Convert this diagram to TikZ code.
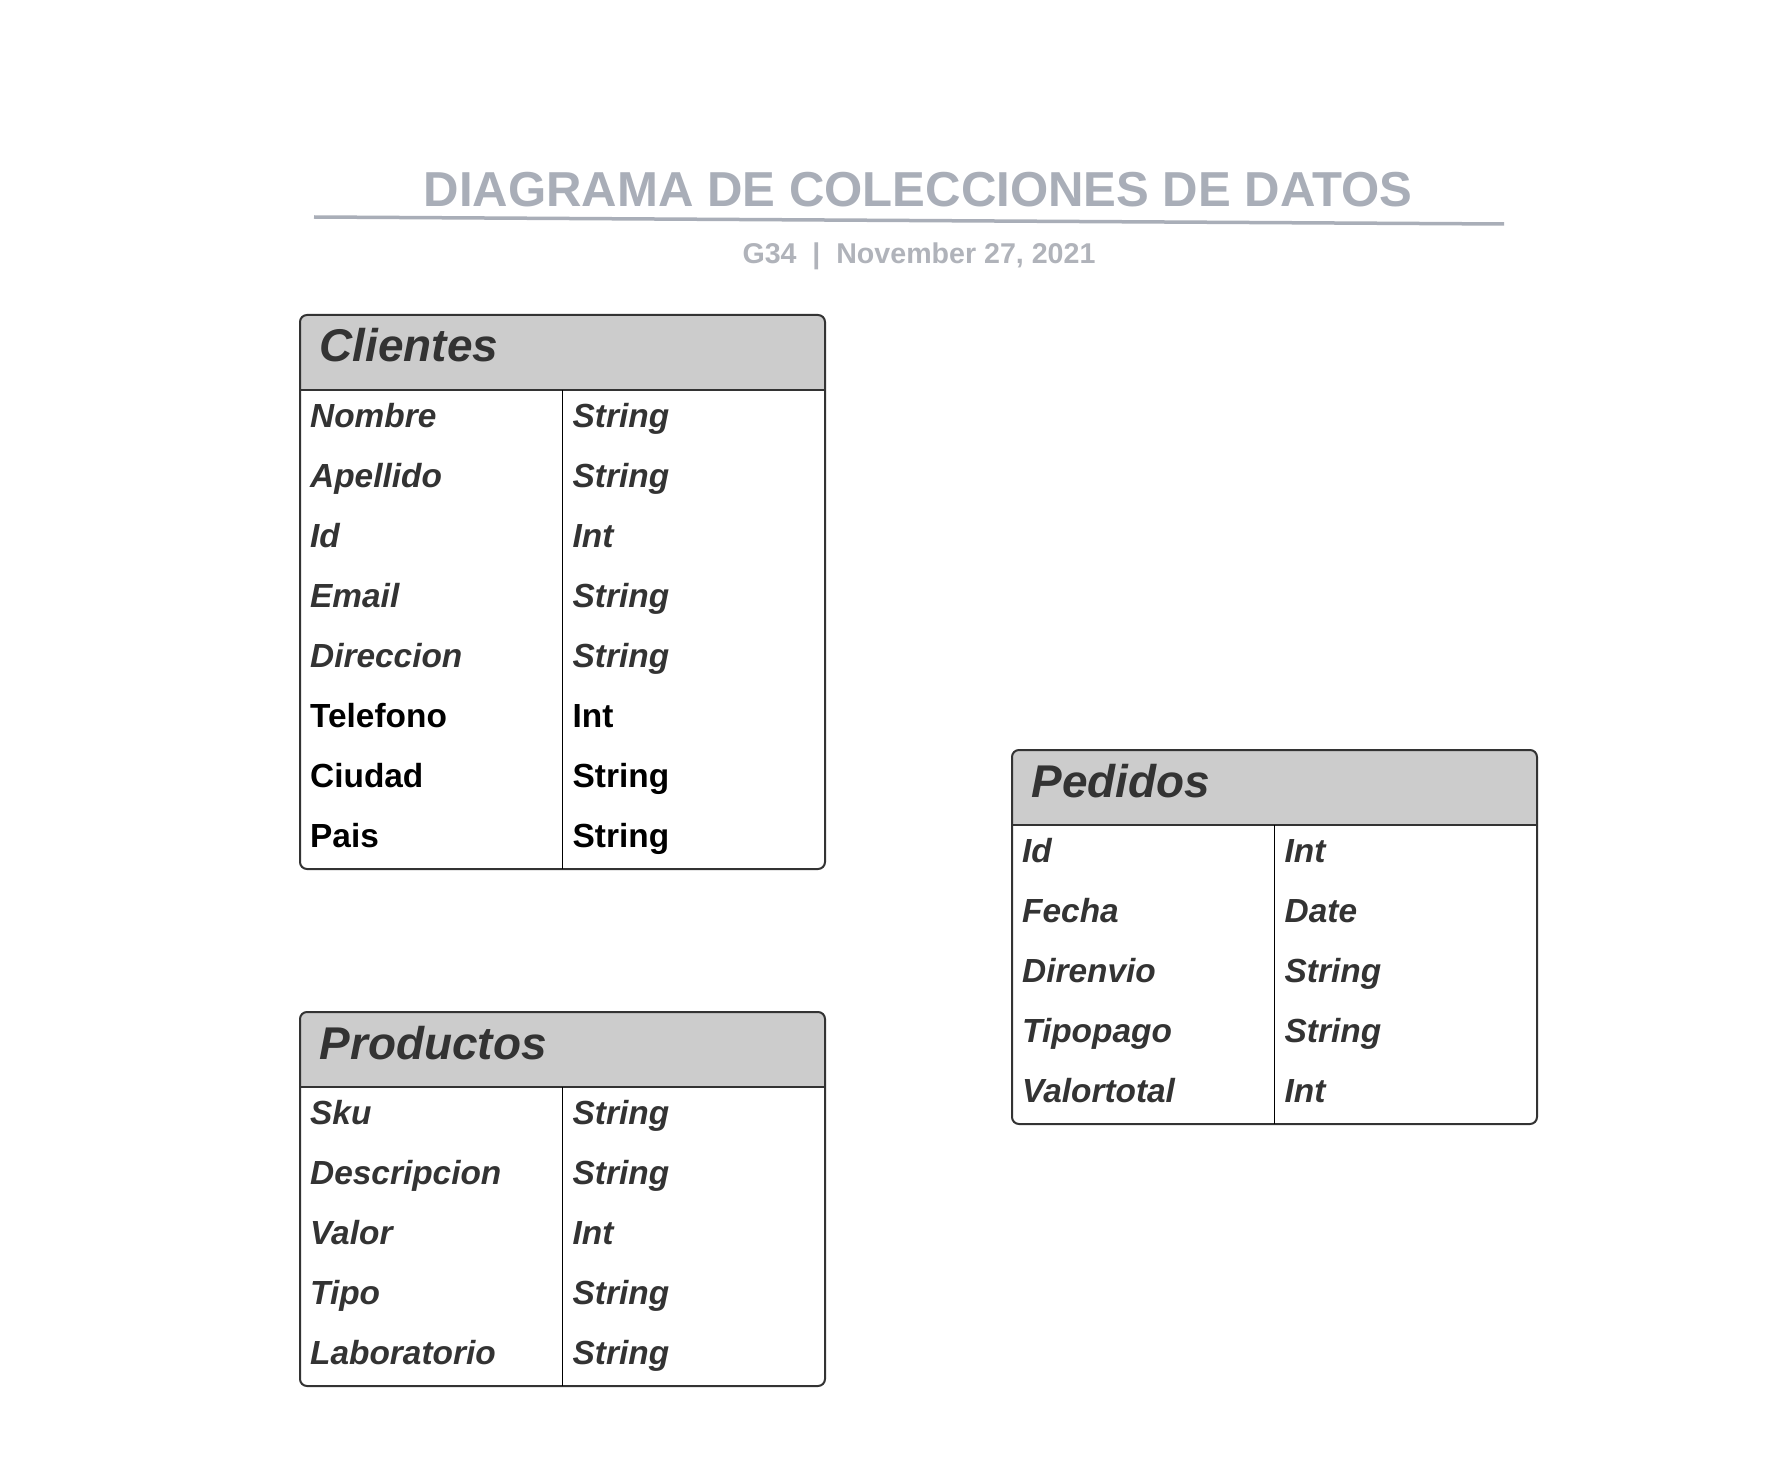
\documentclass[tikz,border=0pt]{standalone}
\usepackage{fontspec}
\setmainfont{Liberation Sans}
\definecolor{ttl}{HTML}{A9AEB8}
\definecolor{sub}{HTML}{B0B3BA}
\definecolor{txt}{HTML}{333333}
\definecolor{hdr}{HTML}{CCCCCC}
\tikzset{
  frame/.style={draw=txt, line width=2pt, rounded corners=7pt},
  hdrline/.style={draw=txt, line width=1.5pt},
  divline/.style={draw=black, line width=1.2pt},
  field/.style={anchor=base west, inner sep=0pt, font=\fontsize{33.4}{40}\selectfont\bfseries\itshape, text=txt},
  fieldb/.style={anchor=base west, inner sep=0pt, font=\fontsize{33.4}{40}\selectfont\bfseries, text=black},
  tabtitle/.style={anchor=base west, inner sep=0pt, font=\fontsize{45.9}{54}\selectfont\bfseries\itshape, text=txt},
}
% #1 name, #2 x, #3 y, #4 number of rows, #5 title
\newcommand\dbtab[5]{%
  \pgfmathsetmacro\tbot{#3+74+60*#4}%
  \pgfmathsetmacro\tright{#2+525}%
  \pgfmathsetmacro\thb{#3+75}%
  \pgfmathsetmacro\tdiv{#2+262.5}%
  \coordinate (#1-nw) at (#2,#3);
  \coordinate (#1-se) at (\tright,\tbot);
  \coordinate (#1-hl) at (#2,\thb);
  \coordinate (#1-hr) at (\tright,\thb);
  \coordinate (#1-dt) at (\tdiv,\thb);
  \coordinate (#1-db) at (\tdiv,\tbot);
  \begin{scope}
    \clip[rounded corners=7pt] (#1-nw) rectangle (#1-se);
    \fill[hdr] (#1-nw) rectangle (#1-hr);
  \end{scope}
  \draw[frame] (#1-nw) rectangle (#1-se);
  \draw[hdrline] (#1-hl) -- (#1-hr);
  \draw[divline] (#1-dt) -- (#1-db);
  \node[tabtitle] (#1-title) at (#2+19.5,#3+47) {#5};
}
% #1 name, #2 table x, #3 table y, #4 row index, #5 style, #6 field, #7 type
\newcommand\dbrow[7]{%
  \node[#5] (#1-f#4) at (#2+10,#3+112+60*#4) {#6};
  \node[#5] (#1-t#4) at (#2+272.5,#3+112+60*#4) {#7};
}
\begin{document}
\begin{tikzpicture}[x=1pt,y=-1pt]
\useasboundingbox[fill=white] (0,0) rectangle (1789,1463);

% title
\node[anchor=base, inner sep=0pt, font=\fontsize{49.1}{58}\selectfont\bfseries, text=ttl] (title) at (918,207) {DIAGRAMA DE COLECCIONES DE DATOS};
\coordinate (rulel) at (314,217);
\coordinate (ruler) at (1504,224);
\draw[ttl, line width=3.5pt] (rulel) -- (ruler);
\node[anchor=base, inner sep=0pt, font=\fontsize{28.6}{34}\selectfont\bfseries, text=sub] (subtitle) at (919,264) {G34\ \ |\ \ November 27, 2021};

% Clientes
\dbtab{cli}{300}{315}{8}{Clientes}
\dbrow{cli}{300}{315}{0}{field}{Nombre}{String}
\dbrow{cli}{300}{315}{1}{field}{Apellido}{String}
\dbrow{cli}{300}{315}{2}{field}{Id}{Int}
\dbrow{cli}{300}{315}{3}{field}{Email}{String}
\dbrow{cli}{300}{315}{4}{field}{Direccion}{String}
\dbrow{cli}{300}{315}{5}{fieldb}{Telefono}{Int}
\dbrow{cli}{300}{315}{6}{fieldb}{Ciudad}{String}
\dbrow{cli}{300}{315}{7}{fieldb}{Pais}{String}

% Pedidos
\dbtab{ped}{1012}{750}{5}{Pedidos}
\dbrow{ped}{1012}{750}{0}{field}{Id}{Int}
\dbrow{ped}{1012}{750}{1}{field}{Fecha}{Date}
\dbrow{ped}{1012}{750}{2}{field}{Direnvio}{String}
\dbrow{ped}{1012}{750}{3}{field}{Tipopago}{String}
\dbrow{ped}{1012}{750}{4}{field}{Valortotal}{Int}

% Productos
\dbtab{pro}{300}{1012}{5}{Productos}
\dbrow{pro}{300}{1012}{0}{field}{Sku}{String}
\dbrow{pro}{300}{1012}{1}{field}{Descripcion}{String}
\dbrow{pro}{300}{1012}{2}{field}{Valor}{Int}
\dbrow{pro}{300}{1012}{3}{field}{Tipo}{String}
\dbrow{pro}{300}{1012}{4}{field}{Laboratorio}{String}
\end{tikzpicture}
\end{document}
